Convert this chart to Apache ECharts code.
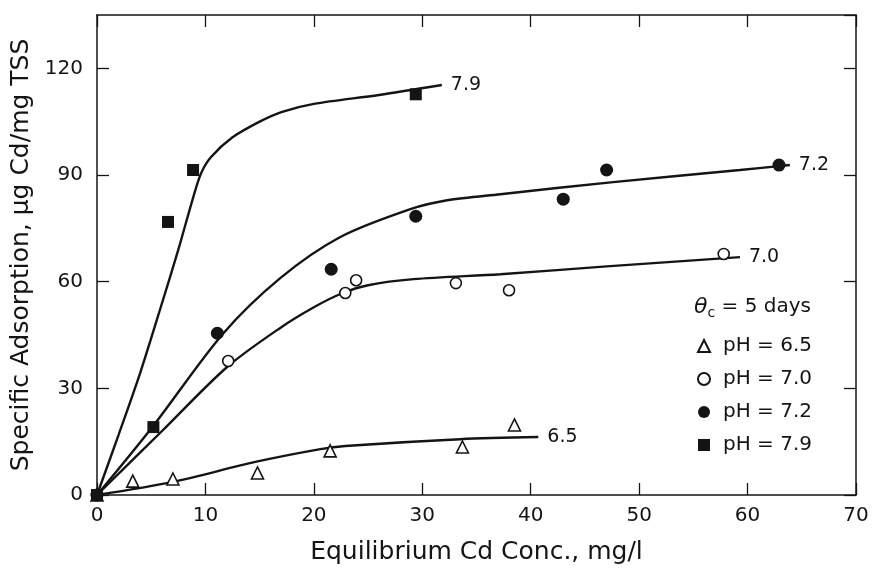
<!DOCTYPE html>
<html>
<head>
<meta charset="utf-8">
<script src="https://cdn.jsdelivr.net/npm/echarts@6/dist/echarts.min.js"></script>
<style>html,body{margin:0;padding:0;background:#fff}#c{width:874px;height:570px}</style>
</head>
<body>
<div id="c"></div>
<script>
// Measured data points [Cd conc mg/l, adsorption ug/mg]
var pH65Points = [[0,0],[3.3,3.9],[7.0,4.5],[14.8,6.2],[21.5,12.4],[33.7,13.5],[38.5,19.7]];
var pH70Points = [[0,0],[12.1,37.7],[22.9,56.8],[23.9,60.4],[33.1,59.6],[38.0,57.6],[57.8,67.8]];
var pH72Points = [[0,0],[11.1,45.5],[21.6,63.5],[29.4,78.4],[43.0,83.2],[47.0,91.4],[62.9,92.8]];
var pH79Points = [[0,0],[5.2,19.1],[6.55,76.8],[8.86,91.4],[29.4,112.7]];

// Fitted curves
var curve65 = [[0,0],[7,3.7],[14.6,9.3],[20.6,12.9],[22.9,13.8],[33.5,15.7],[40.7,16.3]];
var curve70 = [[0,0],[6,18],[12,36],[16.9,47],[20,52.8],[22.5,56.6],[25,59],[29.2,60.7],[37.2,62.1],[47,64.3],[59.3,66.9]];
var curve72 = [[0,0],[5.2,19.5],[11.6,45.3],[16.9,61],[22.4,72.5],[28.9,80.4],[32.3,82.9],[37.2,84.6],[47.6,88],[59.3,91.4],[63.9,92.8]];
var curve79 = [[0,0],[2,17],[4,34.5],[6,54],[7.5,69],[8.9,84],[9.6,90.5],[10.5,95],[12.5,100.6],[15,105],[17,107.7],[20,110],[26,112.5],[31.8,115.3]];

var curveLabels = ['6.5','7.0','7.2','7.9'];
var legendNames = ['pH = 6.5','pH = 7.0','pH = 7.2','pH = 7.9'];
var xTicks = {min:0, max:70, interval:10};
var yTicks = {min:0, max:135, interval:30};

var INK = '#141414';
var FONT = 'DejaVu Sans';

function curveSeries(data, label) {
  return {
    type:'line', data:data, smooth:0.3, showSymbol:false, silent:true,
    lineStyle:{color:INK, width:2.4}, z:2,
    endLabel:{show:true, formatter:label, distance:9, color:INK, fontFamily:FONT, fontSize:19}
  };
}
function pointSeries(name, data, symbol, filled, size) {
  return {
    type:'scatter', name:name, data:data, symbol:symbol, symbolSize:size, z:3,
    itemStyle:{color: filled ? INK : '#fff', borderColor:INK, borderWidth: filled ? 0 : 1.6, opacity:1}
  };
}

var chart = echarts.init(document.getElementById('c'), null, {renderer:'canvas'});
var axisCommon = {
  axisLine:{show:true, onZero:false, lineStyle:{color:INK, width:1.5}},
  axisTick:{show:true, inside:true, length:12, lineStyle:{color:INK, width:1.3}},
  splitLine:{show:false}
};
chart.setOption({
  backgroundColor:'#fff',
  animation:false,
  grid:{left:97, right:18, top:15, bottom:72},
  title:{
    left:694, top:294, padding:0,
    text:'{t|θ}{s|c}{n| = 5 days}',
    textStyle:{fontWeight:'normal', rich:{
      t:{fontFamily:FONT, fontSize:22, color:INK, fontStyle:'italic', fontWeight:'normal'},
      s:{fontFamily:FONT, fontSize:14, color:INK, fontWeight:'normal', verticalAlign:'bottom', padding:[12,0,0,0]},
      n:{fontFamily:FONT, fontSize:20, color:INK, fontWeight:'normal'}
    }}
  },
  legend:{
    orient:'vertical', left:697, top:336, padding:0,
    itemWidth:12, itemHeight:12, itemGap:13,
    selectedMode:false,
    data:legendNames,
    textStyle:{fontFamily:FONT, fontSize:20, color:INK, lineHeight:20, padding:[0,0,0,8]}
  },
  xAxis:[
    Object.assign({type:'value', position:'bottom', min:xTicks.min, max:xTicks.max, interval:xTicks.interval,
      name:'Equilibrium Cd Conc., mg/l', nameLocation:'middle', nameGap:45,
      nameTextStyle:{fontFamily:FONT, fontSize:25, color:INK},
      axisLabel:{fontFamily:FONT, fontSize:20, color:INK, margin:11}}, axisCommon),
    Object.assign({type:'value', position:'top', min:xTicks.min, max:xTicks.max, interval:xTicks.interval,
      axisLabel:{show:false}}, axisCommon)
  ],
  yAxis:[
    Object.assign({type:'value', position:'left', min:yTicks.min, max:yTicks.max, interval:yTicks.interval,
      name:'Specific Adsorption, μg Cd/mg TSS', nameLocation:'middle', nameGap:51, nameRotate:90,
      nameTextStyle:{fontFamily:FONT, fontSize:25, color:INK},
      axisLabel:{fontFamily:FONT, fontSize:20, color:INK, margin:14, showMaxLabel:false}}, axisCommon),
    Object.assign({type:'value', position:'right', min:yTicks.min, max:yTicks.max, interval:yTicks.interval,
      axisLabel:{show:false}}, axisCommon)
  ],
  series:[
    curveSeries(curve65, curveLabels[0]),
    curveSeries(curve70, curveLabels[1]),
    curveSeries(curve72, curveLabels[2]),
    curveSeries(curve79, curveLabels[3]),
    pointSeries(legendNames[0], pH65Points, 'triangle', false, 12),
    pointSeries(legendNames[1], pH70Points, 'circle', false, 11),
    pointSeries(legendNames[2], pH72Points, 'circle', true, 13),
    pointSeries(legendNames[3], pH79Points, 'rect', true, 12)
  ]
});
</script>
</body>
</html>
